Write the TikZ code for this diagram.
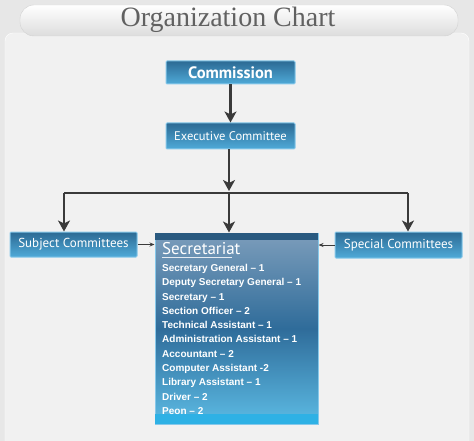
\documentclass[tikz,border=0pt]{standalone}
\usepackage{fontspec}
\setmainfont{Liberation Sans}
\newfontfamily\boxfont{PT Sans}
\newfontfamily\headfont{Liberation Serif}
\usepackage{xcolor}
\usepackage{tikz}
\usetikzlibrary{positioning,arrows.meta,calc}
\definecolor{bgout}{HTML}{E7E7E7}
\definecolor{bgin}{HTML}{F1F1F1}
\definecolor{boxtop}{HTML}{2C6A94}
\definecolor{boxbot}{HTML}{4FAAD8}
\definecolor{boxrim}{HTML}{86C8EA}
\definecolor{sectop}{HTML}{2A5A80}
\definecolor{secup}{HTML}{7C9DBB}
\definecolor{secmid}{HTML}{2F6C9A}
\definecolor{seclow}{HTML}{5CBBE4}
\definecolor{secfoot}{HTML}{2EB1E5}
\definecolor{linegray}{HTML}{3A3A3A}
\tikzset{
  blk/.style   ={draw=boxrim, line width=1pt, rectangle, rounded corners=1pt, align=center,
                 top color=boxtop, bottom color=boxbot, text=white, font=\boxfont},
  secblk/.style={draw=boxrim, line width=1pt, rectangle, minimum width=163pt, minimum height=191pt,
                 top color=secup, bottom color=seclow, middle color=secmid},
  item/.style  ={anchor=north west, align=left, text=white, font=\fontsize{10}{14.3}\selectfont\bfseries, inner sep=0pt},
  arr/.style   ={-{Stealth[length=11pt,width=12pt,inset=3pt]}, line width=2.6pt, draw=linegray},
  thinarr/.style={-{Stealth[length=5pt,width=4pt]}, line width=0.8pt, draw=linegray},
  bar/.style   ={line width=2.6pt, draw=linegray},
}
\begin{document}
\begin{tikzpicture}[x=1pt,y=-1pt]
  % background and title strip
  \fill[bgout] (0,0) rectangle (474,441);
  \useasboundingbox (0,0) rectangle (474,441);
  \fill[bgin, draw=white, rounded corners=8pt] (5,33) rectangle (469,450);
  \shade[top color=white, bottom color=bgout!90!gray, draw=bgout!80!gray, rounded corners=14pt]
    (20,5) rectangle (458,36);
  \node[font=\headfont\fontsize{28}{30}\selectfont, text=black!62] (title) at (228,20) {Organization Chart};

  \node[blk, minimum width=129pt, minimum height=23pt, font=\boxfont\bfseries\fontsize{16.5}{18}\selectfont] (comm) at (230.5,72.5) {Commission};
  \node[blk, minimum width=129pt, minimum height=26pt, font=\boxfont\fontsize{12.5}{14}\selectfont] (exec) at (230.5,136) {Executive Committee};
  \node[blk, minimum width=127pt, minimum height=25pt, font=\boxfont\fontsize{13}{14}\selectfont] (subj) at (73.5,244.5) {Subject Committees};
  \node[blk, minimum width=127pt, minimum height=26pt, font=\boxfont\fontsize{13}{14}\selectfont] (spec) at (398.5,245) {Special Committees};

  % secretariat
  \node[secblk] (sec) at (236.5,328.5) {};
  \fill[sectop] ($(sec.north west)+(0.5,0.5)$) rectangle ($(sec.north east)+(-0.5,7.5)$);
  \fill[secfoot] ($(sec.south west)+(0.5,-11)$) rectangle ($(sec.south east)+(-0.5,-0.5)$);
  \node[anchor=base west, inner sep=0pt, text=white, font=\boxfont\fontsize{17}{18}\selectfont] (sechead) at (162,254) {Secretariat};
  \draw[white!80!secup, line width=0.8pt] ($(sechead.base west)+(0,3.5)$) -- ++(70,0);
  \node[item] (staff) at (162,264)
    {Secretary General -- 1\\
     Deputy Secretary General -- 1\\
     Secretary -- 1\\
     Section Officer -- 2\\
     Technical Assistant -- 1\\
     Administration Assistant -- 1\\
     Accountant -- 2\\
     Computer Assistant -2\\
     Library Assistant -- 1\\
     Driver -- 2\\
     Peon -- 2};

  % connectors
  \coordinate (jm) at (229,191);
  \coordinate (jl) at (64,193);
  \coordinate (jr) at (408,193);
  \draw[arr] (comm.south) -- (exec.north);
  \draw[arr] (exec.south -| jm) -- (jm);
  \draw[bar] (jl) -- (jr);
  \draw[arr] (jl) -- (jl |- subj.north);
  \draw[arr] (jm |- jl) -- (jm |- sec.north);
  \draw[arr] (jr) -- (jr |- spec.north);
  \draw[thinarr] (subj.east) -- (subj.east -| sec.west);
  \draw[thinarr] (spec.west) -- (spec.west -| sec.east);
\end{tikzpicture}
\end{document}
